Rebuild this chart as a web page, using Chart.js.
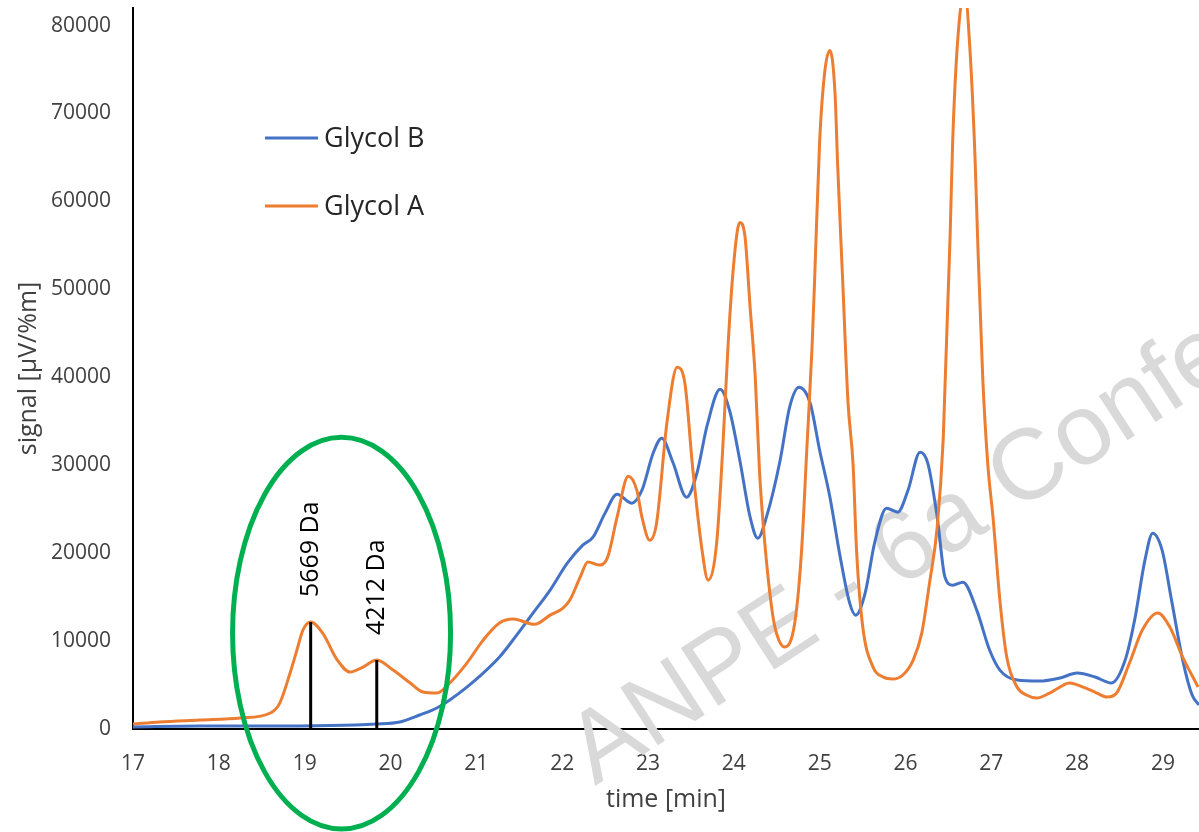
<!DOCTYPE html>
<html>
<head>
<meta charset="utf-8">
<script src="https://cdn.jsdelivr.net/npm/chart.js@4.4.1/dist/chart.umd.min.js"></script>
<style>
  html, body { margin: 0; padding: 0; background: #fff; }
  #wrap { width: 1199px; height: 832px; position: relative; }
</style>
</head>
<body>
<div id="wrap"><canvas id="chart" width="1199" height="832"></canvas></div>
<script>
// Glycol A (orange)
var timeA = [17.00, 17.31, 17.78, 18.25, 18.60, 18.71, 18.83, 18.91, 18.98, 19.07, 19.21, 19.38, 19.53, 19.68, 19.84,
  20.03, 20.23, 20.38, 20.54, 20.69, 20.89, 21.08, 21.27, 21.43, 21.68, 21.86, 22.01, 22.09, 22.21, 22.30,
  22.44, 22.53, 22.64, 22.77, 22.87, 22.93, 23.02, 23.10, 23.22, 23.34, 23.43, 23.52, 23.63, 23.70, 23.80,
  23.87, 23.93, 23.98, 24.04, 24.07, 24.13, 24.19, 24.25, 24.30, 24.36, 24.45, 24.50, 24.59, 24.71, 24.79,
  24.85, 24.91, 24.94, 25.00, 25.06, 25.12, 25.18, 25.21, 25.27, 25.33, 25.39, 25.43, 25.50, 25.62, 25.74,
  25.85, 25.97, 26.09, 26.19, 26.28, 26.37, 26.44, 26.52, 26.55, 26.61, 26.69, 26.75, 26.81, 26.84, 26.90,
  26.96, 27.02, 27.10, 27.18, 27.30, 27.41, 27.53, 27.68, 27.80, 27.91, 28.07, 28.23, 28.35, 28.46, 28.61,
  28.76, 28.94, 29.08, 29.23, 29.41];
var signalA = [570, 800, 1020, 1250, 1820, 2950, 6360, 8980, 11250, 12160, 10900, 7840, 6480, 7050, 7840,
  6700, 5230, 4200, 4090, 5230, 7500, 10110, 12050, 12500, 11900, 12950, 13750, 14660, 17270, 18980,
  18640, 19550, 24090, 28750, 27160, 24090, 21480, 23410, 34770, 41140, 39320, 29770, 20340, 16930, 21140,
  31700, 43070, 50680, 56590, 57610, 56020, 47950, 40000, 29200, 21250, 13180, 10800, 9320, 12050, 20340,
  31700, 43070, 50680, 66820, 74770, 77160, 72160, 64090, 50680, 37270, 30000, 20340, 11800, 7100, 5910,
  5680, 6140, 7840, 10910, 16590, 23000, 33000, 56020, 66820, 78520, 84000, 77500, 65110, 56020, 40000,
  30000, 24090, 14660, 8180, 4770, 3860, 3520, 4090, 4770, 5230, 4770, 4090, 3640, 4090, 7500,
  11250, 13180, 11590, 8180, 4770];

// Glycol B (blue)
var timeB = [17.00, 17.78, 18.56, 19.84, 20.11, 20.34, 20.54, 20.69, 20.89, 21.08, 21.27, 21.47, 21.66, 21.86,
  22.06, 22.24, 22.36, 22.50, 22.64, 22.81, 22.93, 23.06, 23.16, 23.29, 23.45, 23.57, 23.69, 23.84, 23.95,
  24.07, 24.19, 24.28, 24.38, 24.54, 24.65, 24.76, 24.89, 25.00, 25.12, 25.24, 25.35, 25.42, 25.53, 25.64,
  25.78, 25.91, 26.03, 26.17, 26.26, 26.37, 26.46, 26.55, 26.67, 26.83, 26.98, 27.10, 27.30, 27.56, 27.80,
  28.00, 28.21, 28.40, 28.56, 28.67, 28.79, 28.88, 28.99, 29.10, 29.23, 29.34, 29.42];
var signalB = [230, 340, 340, 570, 800, 1590, 2390, 3300, 4770, 6360, 8180, 10680, 13180, 15800,
  18860, 20910, 21820, 24550, 26700, 25680, 27160, 31360, 33070, 30340, 26360, 29090, 34550, 38640, 36250,
  30570, 24090, 21700, 24090, 30570, 36590, 38860, 37050, 31700, 26360, 19550, 14320, 12950, 15450, 21140,
  25110, 24660, 27160, 31480, 30230, 24090, 17270, 16360, 16700, 13520, 8980, 6700, 5570, 5450, 5800,
  6360, 5910, 5230, 7840, 12390, 19200, 22270, 20340, 14660, 7840, 3860, 2730];

var seriesNames = ['Glycol B', 'Glycol A'];
var seriesColors = ['#4472C4', '#ED7D31'];

// peak markers
var markTimes = [19.07, 19.84];
var markSignals = [12160, 7840];
var markLabels = ['5669 Da', '4212 Da'];

// highlighted region (ellipse): centre and radii in axis units
var regionCenter = [19.43, 10900];
var regionRadius = [1.27, 22270];

var xTicks = [17, 18, 19, 20, 21, 22, 23, 24, 25, 26, 27, 28, 29];
var yTicks = [0, 10000, 20000, 30000, 40000, 50000, 60000, 70000, 80000];
var xRange = [17, 29.42];
var yRange = [0, 82000];

var watermark = 'ANPE - 6a Confe';

function toPoints(xs, ys) {
  return xs.map(function(x, i) { return {x: x, y: ys[i]}; });
}

var datasets = [
  {
    label: seriesNames[0], data: toPoints(timeB, signalB),
    borderColor: seriesColors[0], borderWidth: 3, pointRadius: 0,
    cubicInterpolationMode: 'monotone', order: 2
  },
  {
    label: seriesNames[1], data: toPoints(timeA, signalA),
    borderColor: seriesColors[1], borderWidth: 3, pointRadius: 0,
    cubicInterpolationMode: 'monotone', order: 1
  }
];
markTimes.forEach(function(t, i) {
  datasets.push({
    label: markLabels[i], data: [{x: t, y: 0}, {x: t, y: markSignals[i]}],
    borderColor: '#000', borderWidth: 3, pointRadius: 0, order: 0
  });
});

var watermarkPlugin = {
  id: 'watermark',
  beforeDatasetsDraw: function(chart) {
    var ctx = chart.ctx;
    ctx.save();
    ctx.translate(595, 786);
    ctx.rotate(-33 * Math.PI / 180);
    ctx.font = '100px "Liberation Sans"';
    ctx.fillStyle = '#d9d9d9';
    ctx.textBaseline = 'alphabetic';
    ctx.fillText(watermark, 0, 0);
    ctx.restore();
  }
};

var notesPlugin = {
  id: 'notes',
  afterDraw: function(chart) {
    var ctx = chart.ctx;
    var xs = chart.scales.x, ys = chart.scales.y;
    ctx.save();

    // mass labels above the marker lines
    ctx.font = '25px "Open Sans"';
    ctx.fillStyle = '#000';
    ctx.textAlign = 'left';
    ctx.textBaseline = 'middle';
    markTimes.forEach(function(t, i) {
      var px = xs.getPixelForValue(t), py = ys.getPixelForValue(markSignals[i]);
      ctx.save();
      ctx.translate(px, py - 25);
      ctx.rotate(-Math.PI / 2);
      ctx.fillText(markLabels[i], 0, 0);
      ctx.restore();
    });

    // green ellipse
    var cx = xs.getPixelForValue(regionCenter[0]);
    var cy = ys.getPixelForValue(regionCenter[1]);
    var rx = xs.getPixelForValue(regionCenter[0] + regionRadius[0]) - cx;
    var ry = cy - ys.getPixelForValue(regionCenter[1] + regionRadius[1]);
    ctx.beginPath();
    ctx.ellipse(cx, cy, rx, ry, 0, 0, Math.PI * 2);
    ctx.strokeStyle = '#00B050';
    ctx.lineWidth = 5;
    ctx.stroke();

    // legend
    var legendY = [138, 206];
    ctx.font = '27px "Open Sans"';
    ctx.fillStyle = '#262626';
    ctx.textBaseline = 'middle';
    seriesNames.forEach(function(name, i) {
      ctx.beginPath();
      ctx.moveTo(265, legendY[i]);
      ctx.lineTo(318, legendY[i]);
      ctx.strokeStyle = seriesColors[i];
      ctx.lineWidth = 3;
      ctx.stroke();
      ctx.fillText(name, 324, legendY[i] + 1);
    });
    ctx.restore();
  }
};

var tickFont = {family: '"Open Sans"', size: 21};
var titleFont = {family: '"Open Sans"', size: 25};

new Chart(document.getElementById('chart'), {
  type: 'line',
  data: {datasets: datasets},
  plugins: [watermarkPlugin, notesPlugin],
  options: {
    responsive: false,
    animation: false,
    devicePixelRatio: 1,
    layout: {padding: {top: 8, right: 0, left: 0, bottom: 0}},
    plugins: {legend: {display: false}, tooltip: {enabled: false}},
    scales: {
      x: {
        type: 'linear', min: xRange[0], max: xRange[1],
        afterBuildTicks: function(s) { s.ticks = xTicks.map(function(v) { return {value: v}; }); },
        afterFit: function(s) { s.height = 103; s.paddingLeft = 0; s.paddingRight = 0; },
        grid: {display: false, drawTicks: false},
        border: {display: true, color: '#000', width: 2},
        ticks: {font: tickFont, color: '#404040', padding: 22, maxRotation: 0, autoSkip: false},
        title: {display: true, text: 'time [min]', font: titleFont, color: '#404040', padding: {top: 0, bottom: 17}}
      },
      y: {
        min: yRange[0], max: yRange[1],
        afterBuildTicks: function(s) { s.ticks = yTicks.map(function(v) { return {value: v}; }); },
        afterFit: function(s) { s.width = 133; s.paddingTop = 0; s.paddingBottom = 0; },
        grid: {display: false, drawTicks: false},
        border: {display: true, color: '#000', width: 2},
        ticks: {font: tickFont, color: '#404040', padding: 22, autoSkip: false,
          callback: function(v) { return String(v); }},
        title: {display: true, text: 'signal [µV/%m]', font: titleFont, color: '#404040', padding: {top: 14, bottom: 0}}
      }
    }
  }
});
</script>
</body>
</html>
